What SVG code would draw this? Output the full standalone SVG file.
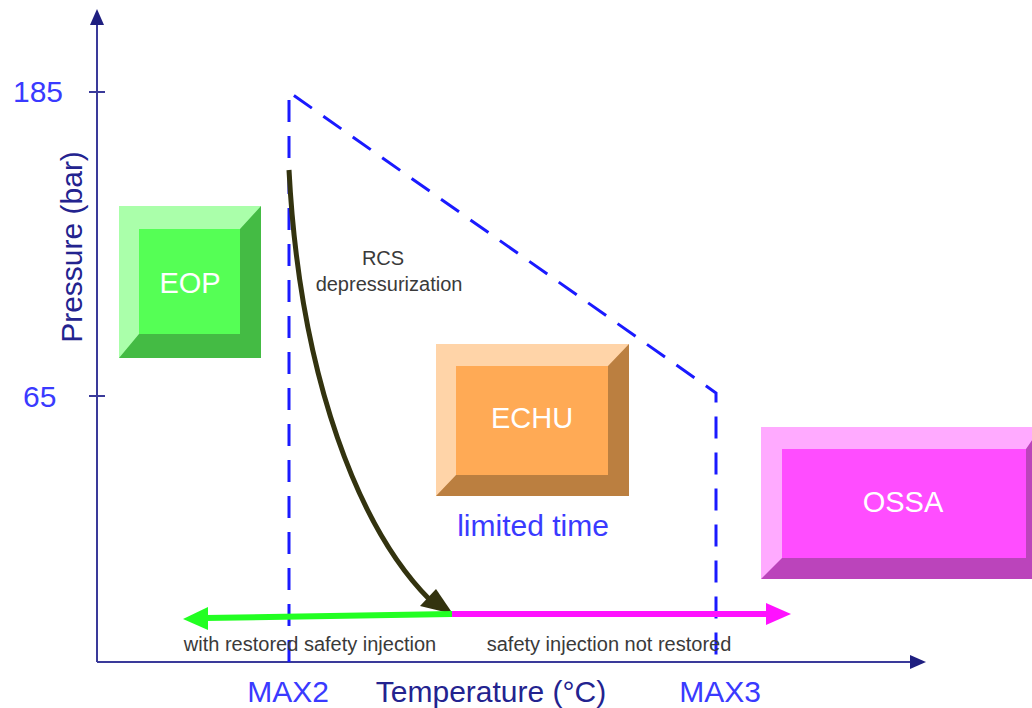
<svg xmlns="http://www.w3.org/2000/svg" width="1032" height="708" viewBox="0 0 1032 708">
<style>
.ax{stroke:#3a3a9a;stroke-width:2;fill:none}
.tick{font-family:"Liberation Sans",Arial,sans-serif;font-size:30px;fill:#3a3aff}
.title{font-family:"Liberation Sans",Arial,sans-serif;font-size:30px;fill:#23238f}
.box{font-family:"Liberation Sans",Arial,sans-serif;font-size:29px;fill:#ffffff;text-anchor:middle}
.small{font-family:"Liberation Sans",Arial,sans-serif;font-size:20px;fill:#3a3a3a;text-anchor:middle}
.dash{stroke:#1a1aff;stroke-width:3;fill:none;stroke-dasharray:22 14}
</style>
<rect width="1032" height="708" fill="#ffffff"/>
<g id="axes">
<line class="ax" x1="97" y1="662" x2="97" y2="24"/>
<polygon points="97,9 90,25 104,25" fill="#1f1f80"/>
<line class="ax" x1="97" y1="662" x2="912" y2="662"/>
<polygon points="926,662 910,655 910,669" fill="#1f1f80"/>
<line class="ax" x1="89" y1="92" x2="105" y2="92"/>
<line class="ax" x1="89" y1="396" x2="105" y2="396"/>
<text class="tick" x="13" y="102">185</text>
<text class="tick" x="23" y="407">65</text>
<text class="title" transform="translate(82,247) rotate(-90)" text-anchor="middle">Pressure (bar)</text>
<text class="tick" x="288" y="702" text-anchor="middle">MAX2</text>
<text class="title" x="491" y="702" text-anchor="middle">Temperature (°C)</text>
<text class="tick" x="720" y="702" text-anchor="middle">MAX3</text>
</g>
<g id="envelope">
<path class="dash" d="M289,662 L289,92 L716,393 L716,662"/>
</g>
<g id="EOP">
<rect x="119" y="206" width="142" height="152" fill="#aaffaa"/>
<polygon points="261,206 261,358 119,358 139,334 240,334 240,229" fill="#44bb44"/>
<rect x="139" y="229" width="101" height="105" fill="#55ff55"/>
<text class="box" x="190" y="293">EOP</text>
</g>
<g id="ECHU">
<rect x="436" y="344" width="193" height="152" fill="#ffd4a8"/>
<polygon points="629,344 629,496 436,496 456,475 608,475 608,366" fill="#bb7f40"/>
<rect x="456" y="366" width="152" height="109" fill="#ffaa55"/>
<text class="box" x="532" y="428">ECHU</text>
<text x="533" y="536" font-family="Liberation Sans, Arial, sans-serif" font-size="30" fill="#3a3aff" text-anchor="middle">limited time</text>
</g>
<g id="OSSA">
<rect x="761" y="427" width="280" height="152" fill="#ffaaff"/>
<polygon points="1041,427 1041,579 761,579 782,558 1026,558 1026,449" fill="#bb44bb"/>
<rect x="782" y="449" width="244" height="109" fill="#ff4dff"/>
<text class="box" x="903" y="512">OSSA</text>
</g>
<g id="connectors">
<path d="M289,170 C300,380 360,530 430,600" stroke="#33330f" stroke-width="5" fill="none"/>
<polygon points="453,614 420,606 436,589" fill="#33330f"/>
<path d="M452,614 L205,618" stroke="#22ff22" stroke-width="6" fill="none"/>
<polygon points="183,619 208,607 208,630" fill="#22ff22"/>
<path d="M452,614 L768,614" stroke="#ff11ff" stroke-width="6" fill="none"/>
<polygon points="791,614 766,603 766,625" fill="#ff11ff"/>
</g>
<g id="labels">
<text class="small" x="383" y="265">RCS</text>
<text class="small" x="389" y="291">depressurization</text>
<text class="small" x="310" y="651">with restored safety injection</text>
<text class="small" x="609" y="651">safety injection not restored</text>
</g>
</svg>
